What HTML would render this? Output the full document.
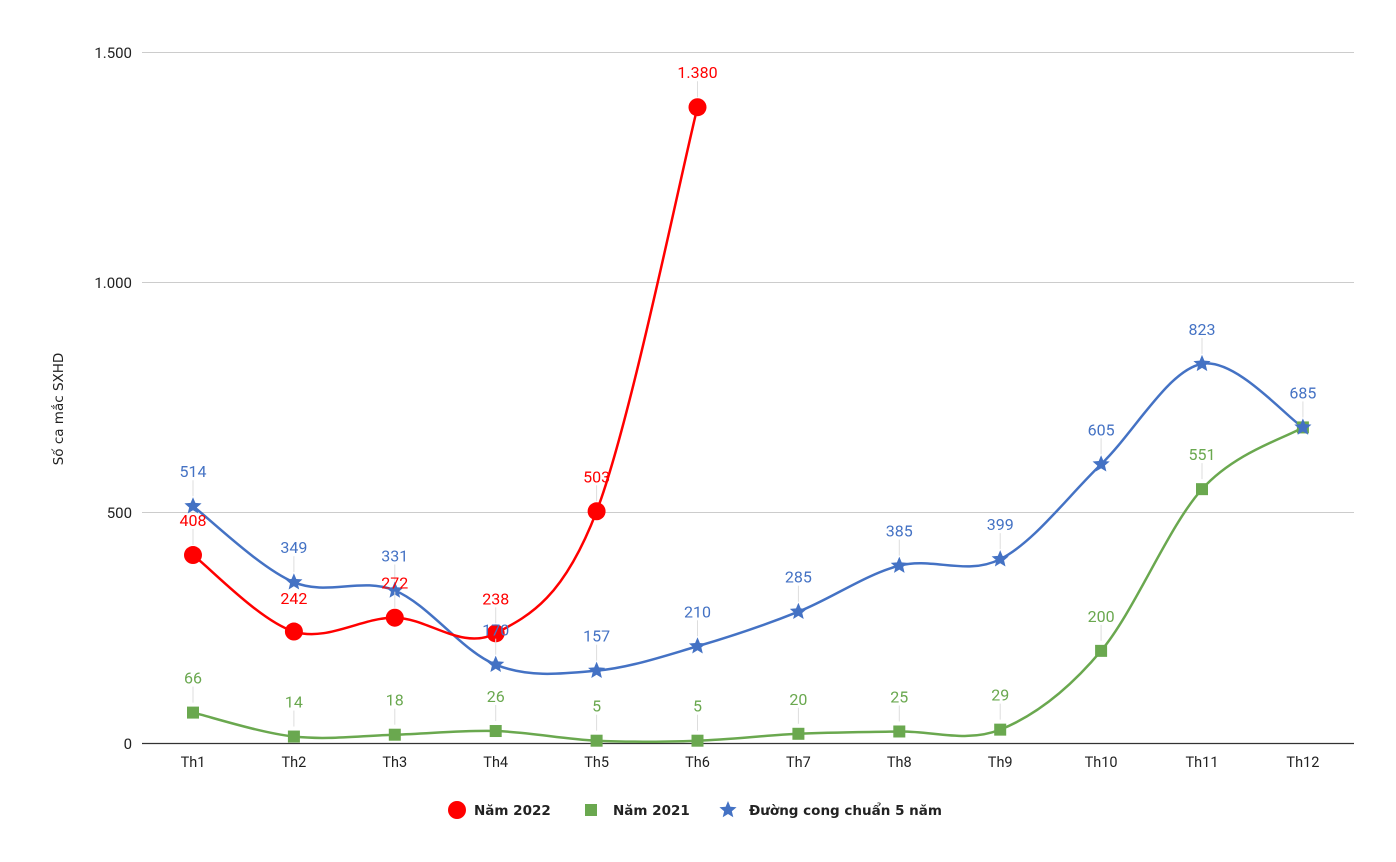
<!DOCTYPE html>
<html><head><meta charset="utf-8"><style>
body{margin:0;background:#fff;}
svg{display:block;font-family:"Roboto","Liberation Sans","DejaVu Sans",sans-serif;}
.dv{font-family:"DejaVu Sans",sans-serif;}
</style></head><body>
<svg id="s" width="1396" height="862" xmlns="http://www.w3.org/2000/svg">
<rect width="1396" height="862" fill="#fff"/>
<g stroke="#cccccc" stroke-width="1">
<line x1="142" y1="52.5" x2="1354" y2="52.5"/>
<line x1="142" y1="282.5" x2="1354" y2="282.5"/>
<line x1="142" y1="512.5" x2="1354" y2="512.5"/>
</g>
<line x1="142" y1="743.5" x2="1354" y2="743.5" stroke="#333" stroke-width="1.2"/>
<g font-size="15" fill="#222" text-anchor="end">
<text x="132" y="58">1.500</text>
<text x="132" y="288">1.000</text>
<text x="132" y="518">500</text>
<text x="132" y="749">0</text>
</g>
<text class="dv" transform="translate(63,409) rotate(-90)" font-size="13.5" fill="#222" text-anchor="middle">Số ca mắc SXHD</text>
<g id="xl" font-size="14.5" fill="#222" text-anchor="middle"></g>
<g id="plot"></g>
<g class="dv" font-size="13.5" font-weight="bold" fill="#222">
<circle cx="457" cy="810" r="9" fill="#ff0000"/>
<text x="474" y="815">Năm 2022</text>
<rect x="585" y="804" width="12" height="12" fill="#6aa84f"/>
<text x="613" y="815">Năm 2021</text>
<text x="749" y="815">Đường cong chuẩn 5 năm</text>
</g>
</svg>
<script>
const NS="http://www.w3.org/2000/svg";
const X=i=>193+i*100.9, Y=v=>743-v*0.4607;
const xl=document.getElementById('xl'), plot=document.getElementById('plot');
function el(t,a,p){const e=document.createElementNS(NS,t);for(const k in a)e.setAttribute(k,a[k]);(p||plot).appendChild(e);return e;}
for(let i=0;i<12;i++){const t=el('text',{x:X(i),y:767},xl);t.textContent='Th'+(i+1);}
function path(vals){const p=vals.map((v,i)=>[X(i),Y(v)]);let d='M'+p[0][0]+','+p[0][1];
for(let i=0;i<p.length-1;i++){const p0=p[i-1]||p[i],p1=p[i],p2=p[i+1],p3=p[i+2]||p2;const t=6;
d+=' C'+(p1[0]+(p2[0]-p0[0])/t)+','+(p1[1]+(p2[1]-p0[1])/t)+' '+(p2[0]-(p3[0]-p1[0])/t)+','+(p2[1]-(p3[1]-p1[1])/t)+' '+p2[0]+','+p2[1];}
return d;}
function star(cx,cy,R){let r=R*0.45,d='';for(let k=0;k<10;k++){const a=-Math.PI/2+k*Math.PI/5,rr=k%2?r:R;d+=(k?'L':'M')+(cx+rr*Math.cos(a))+','+(cy+rr*Math.sin(a));}return d+'Z';}
const fmt=v=>v>=1000?String(v).replace(/(\d)(\d{3})$/,'$1.$2'):String(v);
const blue=[514,349,331,170,157,210,285,385,399,605,823,685];
const green=[66,14,18,26,5,5,20,25,29,200,551,685];
const red=[408,242,272,238,503,1380];
function labels(vals,col,skip){vals.forEach((v,i)=>{if(skip&&skip[i])return;const x=X(i),y=Y(v);
el('line',{x1:x,y1:y-10,x2:x,y2:y-26,stroke:'#ddd','stroke-width':1});
const t=el('text',{x:x,y:y-29,'font-size':16,fill:col,'text-anchor':'middle'});t.textContent=fmt(v);});}
el('path',{d:path(green),fill:'none',stroke:'#6aa84f','stroke-width':2.5});
el('path',{d:path(blue),fill:'none',stroke:'#4472c4','stroke-width':2.5});
el('path',{d:path(red),fill:'none',stroke:'#ff0000','stroke-width':2.5});
green.forEach((v,i)=>el('rect',{x:X(i)-6,y:Y(v)-6,width:12,height:12,fill:'#6aa84f'}));
blue.forEach((v,i)=>el('path',{d:star(X(i),Y(v),9),fill:'#4472c4'}));
red.forEach((v,i)=>el('circle',{cx:X(i),cy:Y(v),r:9,fill:'#ff0000'}));
labels(green,'#6aa84f',{11:1});labels(blue,'#4472c4');
red.forEach((v,i)=>{const x=X(i),y=Y(v);let ly=y-29;
if(i!=1)el('line',{x1:x,y1:y-10,x2:x,y2:y-26,stroke:'#ddd','stroke-width':1});
const t=el('text',{x:x,y:i==1?604:ly,'font-size':16,fill:'#ff0000','text-anchor':'middle'});t.textContent=fmt(v);});
el('path',{d:star(728,810,9),fill:'#4472c4'});
</script>
</body></html>
